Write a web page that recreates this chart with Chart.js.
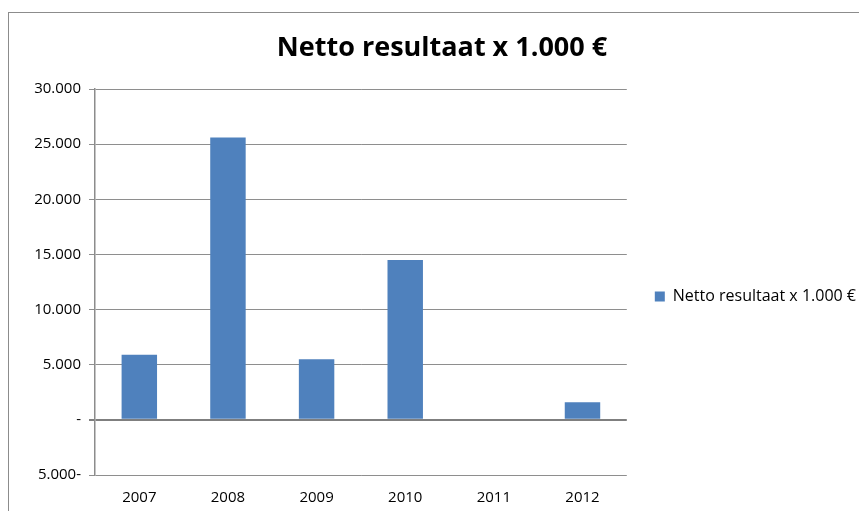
<!DOCTYPE html>
<html>
<head>
<meta charset="utf-8">
<script src="https://cdn.jsdelivr.net/npm/chart.js@4"></script>
<style>
  html, body { margin: 0; padding: 0; background: #fff; overflow: hidden; }
  #frame { position: absolute; left: 8px; top: 12px; width: 900px; height: 600px; border: 1px solid #8c8c8c; }
  #wrap { position: absolute; left: 0; top: 0; width: 859px; height: 511px; }
</style>
</head>
<body>
<div id="frame"></div>
<div id="wrap"><canvas id="result-graph"></canvas></div>
<script>
var years = ['2007', '2008', '2009', '2010', '2011', '2012'];
var nettoResult = [5900, 25600, 5500, 14500, 0, 1600];
var seriesName = 'Netto resultaat x 1.000 €';
var yTicks = [-5000, 0, 5000, 10000, 15000, 20000, 25000, 30000];

// Excel style: 25.000 / - / 5.000-
function formatTick(value) {
    if (value === 0) return '-';
    var s = String(Math.abs(value)).replace(/\B(?=(\d{3})+(?!\d))/g, '.');
    return value < 0 ? s + '-' : s;
}

var ctx = document.getElementById('result-graph').getContext('2d');
var resultChart = new Chart(ctx, {
    type: 'bar',
    data: {
        labels: years,
        datasets: [{
            label: seriesName,
            data: nettoResult,
            backgroundColor: '#4f81bd',
            borderWidth: 0,
            categoryPercentage: 0.4,
            barPercentage: 1
        }]
    },
    options: {
        responsive: true,
        maintainAspectRatio: false,
        animation: false,
        layout: {
            padding: { top: 20, left: 18, right: -7, bottom: 0 }
        },
        scales: {
            x: {
                grid: { display: false, drawTicks: false },
                border: { display: false },
                afterFit: function(axis) { axis.height = 36; },
                ticks: {
                    color: '#000',
                    padding: 14,
                    font: { family: 'Open Sans', size: 15 }
                }
            },
            y: {
                min: -5000,
                max: 30000,
                afterBuildTicks: function(axis) {
                    axis.ticks = yTicks.map(function(v) { return { value: v }; });
                },
                afterFit: function(axis) { axis.width = 77; },
                grid: {
                    color: function(c) { return c.tick && c.tick.value === 0 ? '#7f7f7f' : '#8e8e8e'; },
                    lineWidth: function(c) { return c.tick && c.tick.value === 0 ? 2 : 1; },
                    tickLength: 6
                },
                border: { display: true, color: '#8c8c8c', width: 1.5 },
                ticks: {
                    color: '#000',
                    padding: 8,
                    font: { family: 'Open Sans', size: 15 },
                    callback: function(value) { return formatTick(value); }
                }
            }
        },
        plugins: {
            title: {
                display: true,
                text: seriesName,
                color: '#000',
                font: { family: 'Open Sans', size: 27, weight: 'bold' },
                padding: { top: 11.8, bottom: 24.8 }
            },
            legend: {
                position: 'right',
                maxWidth: 240,
                title: {
                    display: true,
                    text: '',
                    font: { family: 'Open Sans', size: 16 },
                    padding: { top: 0, bottom: 43 }
                },
                labels: {
                    boxWidth: 10,
                    boxHeight: 10,
                    padding: 28,
                    color: '#000',
                    font: { family: 'Open Sans', size: 16 }
                }
            },
            tooltip: { enabled: false }
        }
    }
});
</script>
</body>
</html>
